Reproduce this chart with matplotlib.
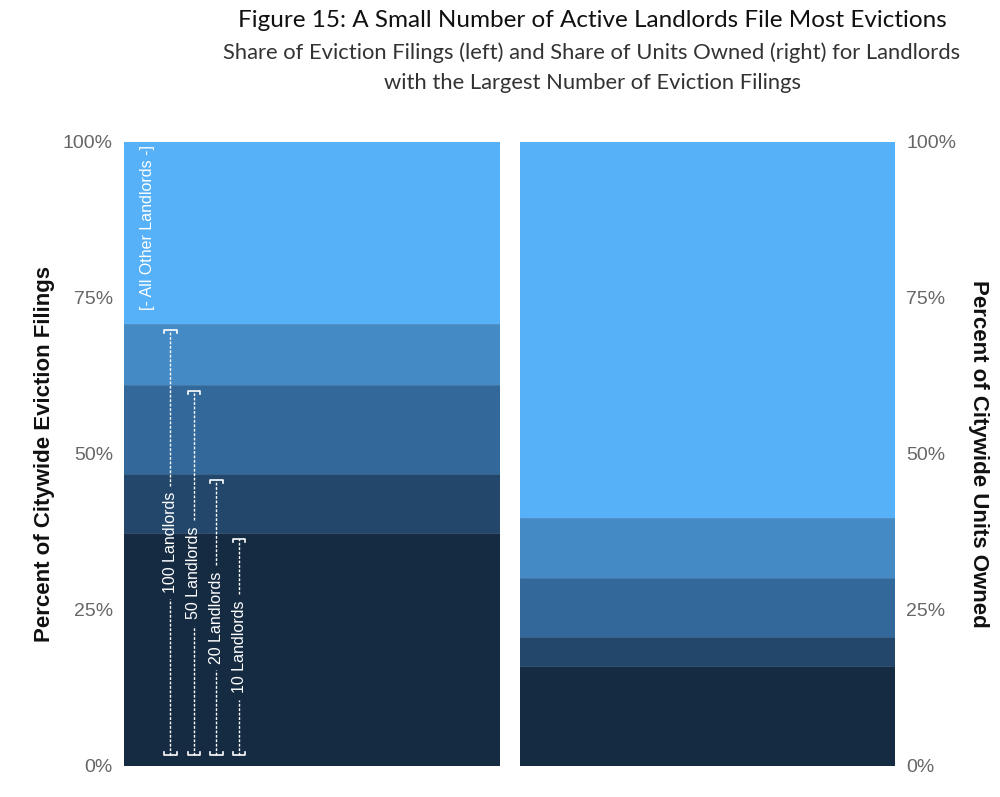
import matplotlib.pyplot as plt
import numpy as np

# cumulative share (%) held by the top-N landlords
groups = ["10 Landlords", "20 Landlords", "50 Landlords", "100 Landlords", "All Other Landlords"]
filings_cum = [37.3, 46.8, 61.1, 70.8, 100.0]
units_cum = [16.0, 20.7, 30.1, 39.7, 100.0]
ticks = [0, 25, 50, 75, 100]
tick_labels = ["0%", "25%", "50%", "75%", "100%"]

colors = ["#152b42", "#22476a", "#33699a", "#448bc6", "#56b1f8"]

plt.rcParams['font.family'] = ['Liberation Sans', 'DejaVu Sans']

fig = plt.figure(figsize=(10, 7.97), dpi=100)
ax_l = fig.add_axes([0.124, 31 / 797, 0.376, 624 / 797])
ax_r = fig.add_axes([0.520, 31 / 797, 0.375, 624 / 797])


def stacked(ax, cum):
    bottoms = [0] + cum[:-1]
    for i, (b, t) in enumerate(zip(bottoms, cum)):
        ax.bar(0, t - b, bottom=b, width=1, color=colors[i], edgecolor="none")
        if b > 0:
            ax.axhline(b, color="#6f9cc4", lw=0.4, alpha=0.6)
    ax.set_xlim(-0.5, 0.5)
    ax.set_ylim(0, 100)
    ax.set_xticks([])
    ax.set_yticks(ticks)
    ax.set_yticklabels(tick_labels)
    ax.tick_params(axis="y", length=0, labelsize=14, labelcolor="#666666", pad=8)
    for s in ax.spines.values():
        s.set_visible(False)


stacked(ax_l, filings_cum)
stacked(ax_r, units_cum)
ax_r.yaxis.tick_right()
ax_r.yaxis.set_label_position("right")

ax_l.set_ylabel("Percent of Citywide Eviction Filings", fontsize=16, fontweight="bold",
                color="#111111", labelpad=6)
ax_r.set_ylabel("Percent of Citywide Units Owned", fontsize=16, fontweight="bold",
                color="#111111", rotation=-90, labelpad=24)

# bracket annotations on the left bar (100, 50, 20, 10 landlords)
order = [3, 2, 1, 0]
xs = [-0.377, -0.314, -0.255, -0.194]
bw = 0.017   # half width of bracket bar
bh = 0.45    # bracket tick height (%)
for k, gi in enumerate(order):
    x = xs[k]
    top = filings_cum[gi] - 1.0
    bot = 1.8
    mid = (top + bot) / 2
    label = groups[gi]
    half = len(label) * 0.62 + 1.0
    dash = dict(color="white", lw=1, ls=(0, (2, 1.2)))
    ax_l.plot([x, x], [bot, mid - half], **dash)
    ax_l.plot([x, x], [mid + half, top], **dash)
    ax_l.plot([x - bw, x - bw, x + bw, x + bw], [bot + bh, bot, bot, bot + bh],
              color="white", lw=1.2)
    ax_l.plot([x - bw, x - bw, x + bw, x + bw], [top - bh, top, top, top - bh],
              color="white", lw=1.2)
    ax_l.text(x, mid, label, rotation=90, ha="center", va="center",
              color="white", fontsize=11.5)

ax_l.text(-0.437, 99.5, "[- All Other Landlords -]", rotation=90, ha="center", va="top",
          color="white", fontsize=11.5)

# titles
fig.text(0.592, 0.987, "Figure 15: A Small Number of Active Landlords File Most Evictions",
         ha="center", va="top", fontsize=17.5, family=["Lato", "DejaVu Sans"], color="#111111")
fig.text(0.592, 0.947, "Share of Eviction Filings (left) and Share of Units Owned (right) for Landlords",
         ha="center", va="top", fontsize=15.8, family=["Lato", "DejaVu Sans"], color="#333333")
fig.text(0.592, 0.909, "with the Largest Number of Eviction Filings",
         ha="center", va="top", fontsize=15.8, family=["Lato", "DejaVu Sans"], color="#333333")

fig.savefig("out.png", dpi=100)
